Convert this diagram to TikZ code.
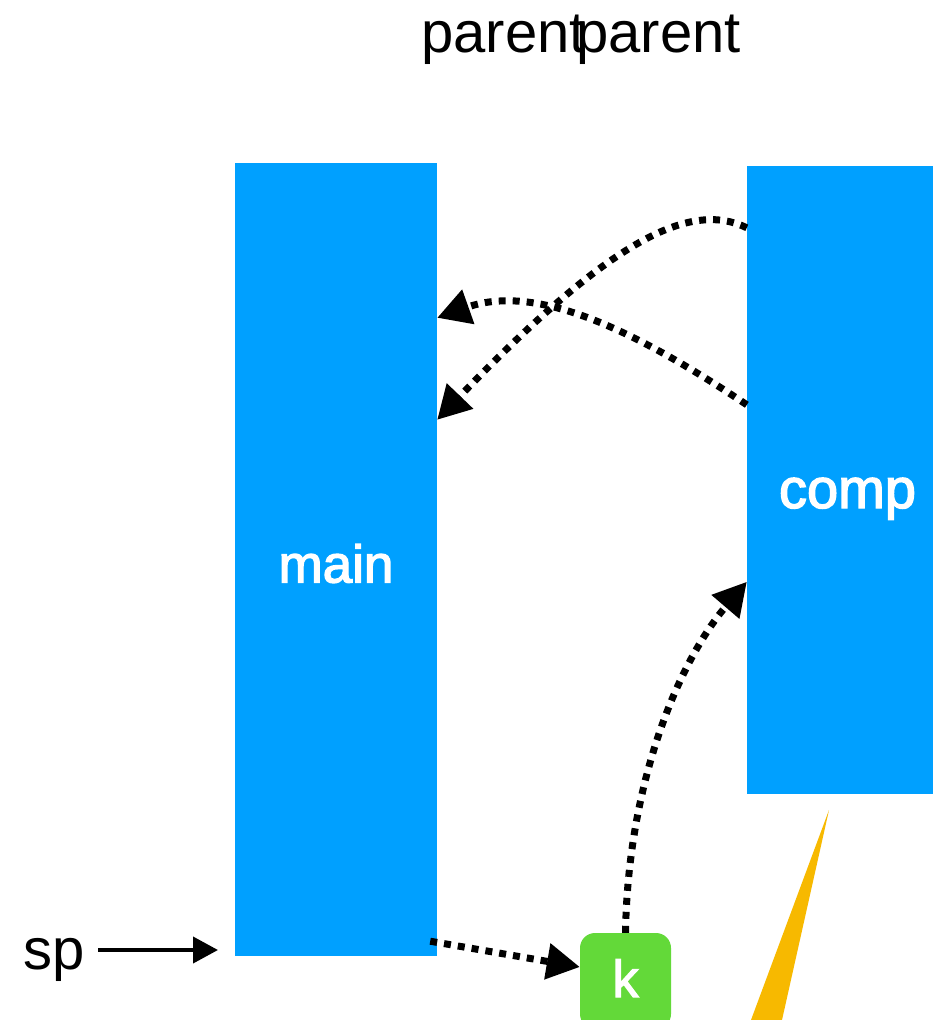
\documentclass[tikz,border=0pt]{standalone}
\usepackage{fontspec}
\setmainfont{Liberation Sans}
\newfontfamily\medfont[FakeBold=2.5]{Liberation Sans}
\usetikzlibrary{arrows.meta}
\definecolor{boxblue}{RGB}{0,160,255}
\definecolor{kgreen}{RGB}{99,217,57}
\definecolor{wedge}{RGB}{247,185,0}
\tikzset{
  bigfont/.style={font=\fontsize{58}{62}\selectfont},
  bar/.style={rectangle, fill=boxblue, draw=none, inner sep=0pt, text=white},
  lbl/.style={inner sep=0pt, bigfont, anchor=base west},
  dotarrow/.style={line width=7pt, dash pattern=on 7pt off 7pt,
    -{Triangle[length=33pt,width=35pt]}},
  solidarrow/.style={line width=4pt, -{Triangle[length=25pt,width=26pt]}},
}
\begin{document}
\begin{tikzpicture}[x=1pt,y=-1pt]
\clip (0,0) rectangle (933,1020);
\fill[white] (0,0) rectangle (933,1020);

\node[lbl] (parentA) at (421,52) {parent};
\node[lbl] (parentB) at (576,52) {parent};

\node[bar, minimum width=202pt, minimum height=793pt, text height=46pt, text depth=0pt,
      font=\medfont\fontsize{53}{58}\selectfont] (main) at (336,559.5) {main};
\node[bar, minimum width=201pt, minimum height=628pt, text height=56pt, text depth=0pt,
      font=\medfont\fontsize{56}{60}\selectfont] (comp) at (847.5,480) {comp};
\node[rectangle, rounded corners=15pt, fill=kgreen, inner sep=0pt, text=white,
      minimum width=91pt, minimum height=96pt, text height=32pt, text depth=0pt,
      font=\medfont\fontsize{52}{56}\selectfont] (k) at (625.5,981) {k};

\fill[wedge] (829,810) -- (782,1020) -- (751,1020) -- cycle;

\node[lbl] (sp) at (23,969) {sp};
\coordinate (spA) at (98,950);
\coordinate (spB) at (218,950);
\draw[solidarrow] (spA) -- (spB);

\draw[dotarrow] ([yshift=-62pt]comp.north west) .. controls (690,200) and (610,240) .. ([yshift=-257pt]main.north east);
\draw[dotarrow] ([yshift=-239pt]comp.north west) .. controls (620,320) and (530,285) .. ([yshift=-155pt]main.north east);
\draw[dotarrow] ([xshift=-7pt,yshift=15pt]main.south east) -- ([yshift=14pt]k.west);
\draw[dotarrow] (k.north) .. controls (628,780) and (680,660) .. ([yshift=-416pt]comp.north west);
\end{tikzpicture}
\end{document}
